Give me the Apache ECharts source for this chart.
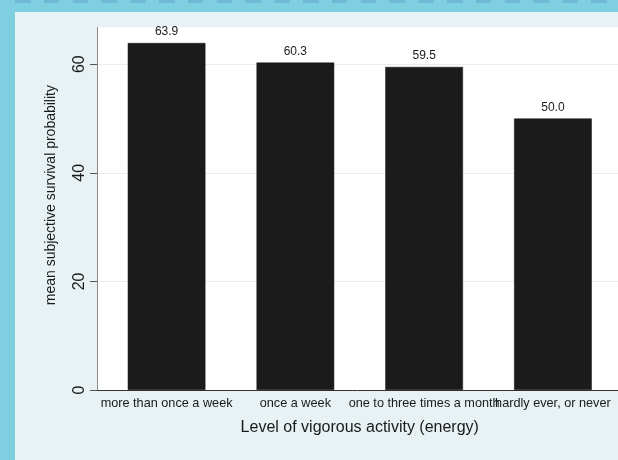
<!DOCTYPE html>
<html>
<head>
<meta charset="utf-8">
<script src="https://cdn.jsdelivr.net/npm/echarts@6/dist/echarts.min.js"></script>
<style>html,body{margin:0;padding:0;}#c{width:618px;height:460px;}</style>
</head>
<body>
<div id="c"></div>
<script>
const categories = ['more than once a week', 'once a week', 'one to three times a month', 'hardly ever, or never'];
const values = [63.9, 60.3, 59.5, 50.0];
const yTicks = [0, 20, 40, 60];
const yMax = 66.8;

const PLOT_TOP = 27.3, PLOT_BOTTOM = 70, H = 460;
const plotH = H - PLOT_TOP - PLOT_BOTTOM;
const tickTop = PLOT_TOP + plotH * (1 - yTicks[yTicks.length - 1] / yMax);

const chart = echarts.init(document.getElementById('c'), null, {renderer: 'canvas'});
const FONT = '"Liberation Sans", Arial, Helvetica, sans-serif';
chart.setOption({
  backgroundColor: '#7ecfe0',
  animation: false,
  textStyle: {fontFamily: FONT},
  graphic: [
    {type: 'rect', z: -100, shape: {x: 15, y: 12, width: 603, height: 448}, style: {fill: '#e8f1f3'}, silent: true},
    {type: 'line', z: -100, shape: {x1: 15, y1: 1.5, x2: 618, y2: 1.5}, style: {stroke: '#6fb9d6', lineWidth: 3, lineDash: [15.5, 13.3]}, silent: true}
  ],
  grid: [
    {left: 97, right: 0, top: PLOT_TOP, bottom: PLOT_BOTTOM, show: true, backgroundColor: '#ffffff', borderWidth: 0},
    {left: 102.2, right: 0.7, top: PLOT_TOP, bottom: PLOT_BOTTOM},
    {left: 97, right: 0, top: tickTop, bottom: PLOT_BOTTOM}
  ],
  xAxis: [
    {gridIndex: 0, type: 'value', min: 0, max: 1,
     axisLine: {show: true, lineStyle: {color: '#333333', width: 1}},
     axisTick: {show: false}, axisLabel: {show: false}, splitLine: {show: false}},
    {gridIndex: 1, type: 'category', data: categories,
     axisLine: {show: false}, axisTick: {show: false},
     axisLabel: {interval: 0, fontSize: 12.7, color: '#1a1a1a', margin: 7, fontFamily: FONT},
     name: 'Level of vigorous activity (energy)', nameLocation: 'middle', nameGap: 30,
     nameTextStyle: {fontSize: 16, color: '#1a1a1a', fontFamily: FONT}},
    {gridIndex: 2, type: 'value', min: 0, max: 1, show: false}
  ],
  yAxis: [
    {gridIndex: 0, type: 'value', min: 0, max: yMax,
     axisLine: {show: true, lineStyle: {color: '#8a8a8a', width: 1}},
     axisTick: {show: false}, axisLabel: {show: false}, splitLine: {show: false},
     name: 'mean subjective survival probability', nameLocation: 'middle', nameGap: 39,
     nameTextStyle: {fontSize: 14, color: '#1a1a1a', padding: [0, 0, 0, 27], fontFamily: FONT}},
    {gridIndex: 1, type: 'value', min: 0, max: yMax, show: false},
    {gridIndex: 2, type: 'value', min: yTicks[0], max: yTicks[yTicks.length - 1], interval: 20,
     axisLine: {show: false},
     axisTick: {show: true, length: 7, lineStyle: {color: '#555555', width: 1}},
     axisLabel: {rotate: 90, fontSize: 16, color: '#1a1a1a', margin: 9, fontFamily: FONT},
     splitLine: {show: true, lineStyle: {color: '#e6eef1', width: 1}}}
  ],
  series: [{
    type: 'bar', xAxisIndex: 1, yAxisIndex: 1, data: values, barWidth: '60.3%',
    itemStyle: {color: '#1b1b1b', borderColor: '#111111', borderWidth: 0.5},
    label: {show: true, position: 'top', distance: 5, fontSize: 12, color: '#1a1a1a', fontFamily: FONT,
      formatter: p => p.value.toFixed(1)}
  }]
});
</script>
</body>
</html>
